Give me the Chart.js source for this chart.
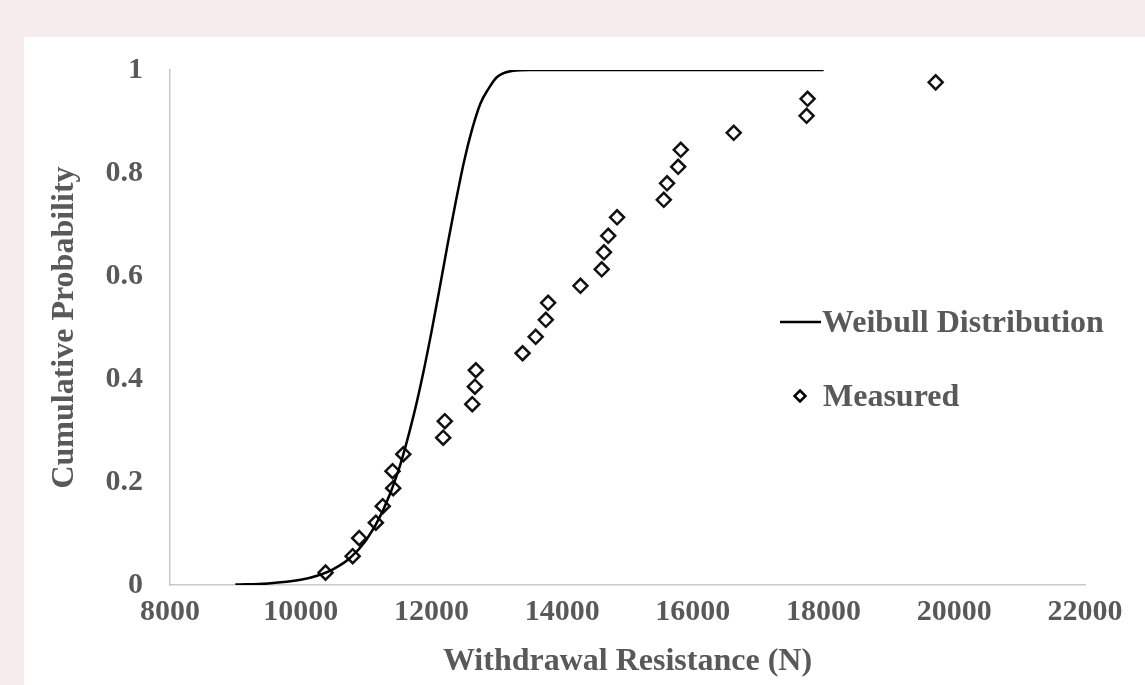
<!DOCTYPE html>
<html>
<head>
<meta charset="utf-8">
<script src="https://cdn.jsdelivr.net/npm/chart.js@4"></script>
<style>
  html, body { margin: 0; padding: 0; background: #f6ecec; }
  #wrap { position: absolute; left: 24px; top: 37px; width: 1121px; height: 648px; background: #fff; }
</style>
</head>
<body>
<div id="wrap"><canvas id="cdf-chart"></canvas></div>
<script>
// Weibull fitted curve
const weibullX = [9000, 9500, 10000, 10250, 10500, 10750, 11000, 11250, 11500, 11750, 11875, 12000,
  12125, 12250, 12375, 12500, 12625, 12750, 12875, 13000, 13250, 13500, 14000, 15000, 16000, 17000, 18000];
const weibullP = [0.001, 0.003, 0.010, 0.018, 0.031, 0.052, 0.087, 0.142, 0.224, 0.341, 0.412, 0.491,
  0.576, 0.663, 0.746, 0.823, 0.886, 0.935, 0.964, 0.986, 0.9986, 1, 1, 1, 1, 1, 1];

// Measured withdrawal resistance (N) and cumulative probability
const measuredX = [10380, 10795, 10895, 11150, 11255, 11415, 11405, 11570, 12180, 12205,
  12625, 12665, 12680, 13395, 13595, 13750, 13785, 14280, 14605, 14640,
  14705, 14840, 15555, 15605, 15775, 15815, 16625, 17740, 17755, 19715];
const measuredP = [0.024, 0.056, 0.091, 0.121, 0.153, 0.188, 0.221, 0.254, 0.286, 0.318,
  0.351, 0.385, 0.417, 0.450, 0.482, 0.515, 0.548, 0.581, 0.613, 0.646,
  0.678, 0.714, 0.748, 0.780, 0.812, 0.845, 0.878, 0.911, 0.944, 0.976];

const xTicks = [8000, 10000, 12000, 14000, 16000, 18000, 20000, 22000];
const yTicks = [0, 0.2, 0.4, 0.6, 0.8, 1];

const FONT = '"Liberation Serif", "Times New Roman", serif';
const GREY = '#595959';

// legend drawn inside the plot, right of the curve
const insideLegend = {
  id: 'insideLegend',
  afterDraw(chart) {
    const { ctx } = chart;
    const ds = chart.data.datasets;
    ctx.save();
    ctx.strokeStyle = '#000';
    ctx.lineWidth = 2.5;
    ctx.beginPath();
    ctx.moveTo(756, 285);
    ctx.lineTo(797, 285);
    ctx.stroke();

    // diamond marker
    const cx = 776, cy = 359, r = 5.5;
    ctx.lineWidth = 2.5;
    ctx.beginPath();
    ctx.moveTo(cx, cy - r);
    ctx.lineTo(cx + r, cy);
    ctx.lineTo(cx, cy + r);
    ctx.lineTo(cx - r, cy);
    ctx.closePath();
    ctx.stroke();

    ctx.font = 'bold 32px ' + FONT;
    ctx.fillStyle = GREY;
    ctx.textBaseline = 'middle';
    ctx.textAlign = 'left';
    ctx.fillText(ds[0].label, 798, 287);
    ctx.fillText(ds[1].label, 799, 361);
    ctx.restore();
  }
};

const ctx = document.getElementById('cdf-chart').getContext('2d');
new Chart(ctx, {
  type: 'scatter',
  data: {
    datasets: [
      {
        label: 'Weibull Distribution',
        data: weibullX.map((x, i) => ({ x, y: weibullP[i] })),
        showLine: true,
        borderColor: '#000',
        borderWidth: 2.5,
        pointRadius: 0,
        cubicInterpolationMode: 'monotone',
      },
      {
        label: 'Measured',
        data: measuredX.map((x, i) => ({ x, y: measuredP[i] })),
        showLine: false,
        pointStyle: 'rectRot',
        pointRadius: 7,
        pointBorderWidth: 2.5,
        pointBorderColor: '#111',
        pointBackgroundColor: 'rgba(0,0,0,0)',
      },
    ],
  },
  options: {
    responsive: true,
    maintainAspectRatio: false,
    animation: false,
    layout: { padding: { left: 0, right: 60, top: 33, bottom: 0 } },
    plugins: {
      legend: { display: false },
      tooltip: { enabled: false },
    },
    scales: {
      x: {
        type: 'linear',
        min: 8000,
        max: 22000,
        afterBuildTicks: s => { s.ticks = xTicks.map(v => ({ value: v })); },
        afterFit: s => { s.height = 100; },
        ticks: {
          color: GREY,
          padding: 9,
          font: { family: FONT, size: 30, weight: 'bold' },
          callback: v => String(v),
        },
        grid: { display: false, drawTicks: false },
        border: { display: true, color: '#c8c8c8', width: 1.5 },
        title: {
          display: true,
          text: 'Withdrawal Resistance (N)',
          color: GREY,
          font: { family: FONT, size: 32, weight: 'bold', lineHeight: 1 },
          padding: { top: 0, bottom: 7 },
        },
      },
      y: {
        type: 'linear',
        min: 0,
        max: 1,
        afterBuildTicks: s => { s.ticks = yTicks.map(v => ({ value: v })); },
        afterFit: s => { s.width = 146; s.paddingTop = 0; s.paddingBottom = 0; },
        ticks: {
          color: GREY,
          padding: 27,
          font: { family: FONT, size: 30, weight: 'bold' },
          callback: v => String(v),
        },
        grid: { display: false, drawTicks: false },
        border: { display: true, color: '#c8c8c8', width: 1.5 },
        title: {
          display: true,
          text: 'Cumulative Probability',
          color: GREY,
          font: { family: FONT, size: 32, weight: 'bold', lineHeight: 1 },
          padding: { top: 25, bottom: 0 },
        },
      },
    },
  },
  plugins: [insideLegend],
});
</script>
</body>
</html>
